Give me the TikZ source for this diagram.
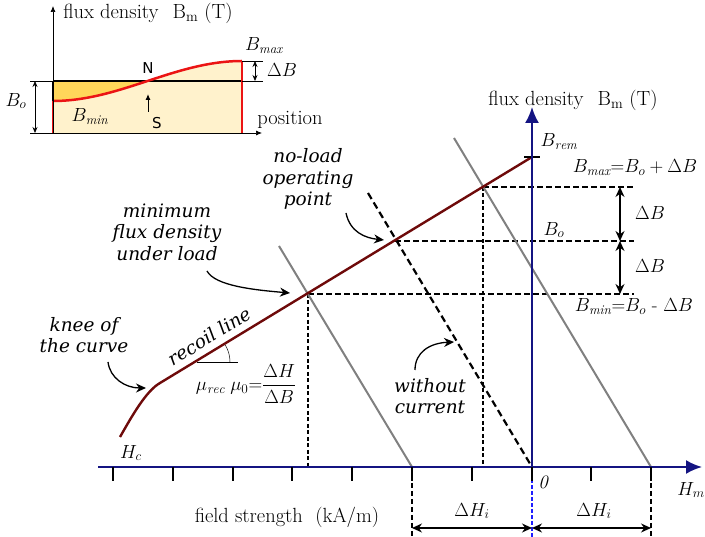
\RequirePackage{fix-cm}
\documentclass[tikz,border=0pt]{standalone}
\usepackage{amsmath}
\usepackage{fontspec}
\usepackage{xcolor}
\usetikzlibrary{arrows.meta}

\newfontfamily\notefont{DejaVu Serif}
\newfontfamily\poleFont{DejaVu Sans}

\definecolor{navy}{RGB}{20,20,130}
\definecolor{recoil}{RGB}{110,10,10}
\definecolor{loadgray}{RGB}{128,128,128}
\definecolor{lightfill}{RGB}{255,242,204}
\definecolor{darkfill}{RGB}{255,214,90}
\definecolor{magred}{RGB}{235,20,20}
\definecolor{zeroblue}{RGB}{30,30,255}

\tikzset{
    note/.style={font=\notefont\itshape\fontsize{18.5}{21.5}\selectfont, align=center, inner sep=0pt},
    wordlabel/.style={font=\fontsize{20.5}{24}\selectfont},
    axisline/.style={draw=navy, line width=2pt, -{Latex[length=16pt,width=14pt]}},
    loadline/.style={draw=loadgray, line width=2pt},
    levelline/.style={dash pattern=on 6pt off 3pt, line width=1.6pt},
    dropline/.style={dash pattern=on 4pt off 2.5pt, line width=1.1pt},
    calloutarrow/.style={->, line width=1.3pt},
    insetaxis/.style={line width=0.7pt, -{Latex[length=6pt,width=5pt]}}
}

\begin{document}
\begin{tikzpicture}[
    x=1pt, y=-1pt,
    >={Stealth[length=10pt,width=9pt]},
    thick,
    font=\fontsize{19}{22}\selectfont
]
    \useasboundingbox (0,0) rectangle (705,537);

    % Define standard coordinates
    \coordinate (O)    at (532,467);
    \coordinate (Brem) at (532,157);
    \coordinate (Pmax) at (483,187);
    \coordinate (Pmid) at (395,241);
    \coordinate (Pmin) at (308,294);
    \coordinate (knee) at (160,383);
    \coordinate (Hc)   at (120,437);

    % ---------------- inset: flux density along the pole ----------------
    \fill[lightfill] (53,133) -- (53,101) .. controls (120,101) and (175,61) .. (242,61) -- (242,133) -- cycle;
    \fill[darkfill] (53,81) -- (53,101) .. controls (86.5,101) and (117,91) .. (147.5,81) -- cycle;
    \draw[line width=2.5pt] (53,81) -- (242,81);
    \draw[line width=2.5pt] (53,81) -- (53,101);
    \draw[magred, line width=2.5pt] (53,101) .. controls (120,101) and (175,61) .. (242,61);
    \draw[magred, line width=2.5pt] (53,101) -- (53,133);
    \draw[magred, line width=2.5pt] (242,61) -- (242,133);

    % inset axes
    \draw[insetaxis] (53,133) -- (53,6);
    \draw[insetaxis] (53,133) -- (262,133);
    \node[wordlabel] (insetflux) at (148,13) {flux density\hspace{14pt}B\textsubscript{m} (T)};
    \node[wordlabel] (insetpos) at (290,120) {position};

    % B_o and Delta B in the inset
    \draw[line width=0.5pt] (30,81) -- (53,81);
    \draw[line width=0.5pt] (30,133) -- (53,133);
    \draw[<->, line width=0.7pt, >={Stealth[length=6pt,width=5pt]}] (35,81) -- (35,133);
    \node (insetBo) at (16,101) {$B_o$};
    \draw[line width=0.5pt] (242,61) -- (263,61);
    \draw[line width=0.5pt] (242,81) -- (263,81);
    \draw[<->, line width=0.7pt, >={Stealth[length=6pt,width=5pt]}] (255,61) -- (255,81);
    \node (insetdB) at (282,70) {$\Delta B$};
    \node (insetBmax) at (264,46) {$B_{\mathit{max}}$};
    \node (insetBmin) at (90,117) {$B_{\mathit{min}}$};

    % poles
    \node[font=\poleFont\fontsize{15}{17}\selectfont] (poleN) at (148,68) {N};
    \node[font=\poleFont\fontsize{15}{17}\selectfont] (poleS) at (157,123) {S};
    \draw[->, line width=1pt, >={Latex[length=6pt,width=5pt]}] (148,112) -- (148,94);

    % ---------------- main diagram ----------------
    % operating levels
    \coordinate (EndMax) at (634,187);
    \coordinate (EndMid) at (634,241);
    \coordinate (EndMin) at (634,294);
    \draw[levelline] (Pmax) -- (EndMax);
    \draw[levelline] (Pmid) -- (EndMid);
    \draw[levelline] (Pmin) -- (EndMin);

    % drop lines to the field axis
    \draw[dropline] (Pmax) -- (483,467);
    \draw[dropline] (Pmin) -- (308,467);

    % load lines
    \coordinate (HiL) at (412,467);
    \coordinate (HiR) at (651,467);
    \coordinate (TopL) at (279,246);
    \coordinate (TopD) at (368,193);
    \coordinate (TopR) at (454,138);
    \draw[loadline] (TopL) -- (HiL);
    \draw[loadline] (TopR) -- (HiR);
    \draw[dash pattern=on 7pt off 4pt, line width=2.2pt] (TopD) -- (O);

    % recoil line with the knee
    \draw[recoil, line width=2.4pt, line join=round] (Brem) -- (knee) .. controls (146,391) and (132,416) .. (Hc);
    \draw[line width=2pt] (524,157) -- (540,157);

    % axes
    \draw[axisline] (98,467) -- (702,467);
    \draw[axisline] (O) -- (532,107);
    \draw[zeroblue, dash pattern=on 4pt off 2pt, line width=1.4pt] (O) -- (532,537);

    % ticks on the field axis
    \foreach \k in {0,...,9}
        \draw[line width=2pt] ({113+59.8*\k},467) -- ++(0,14);

    % Delta B arrows
    \draw[<->, line width=1.3pt] (620,187) -- (620,241);
    \draw[<->, line width=1.3pt] (620,241) -- (620,294);
    \node (dB1) at (650,213) {$\Delta B$};
    \node (dB2) at (650,266) {$\Delta B$};

    % Delta H_i arrows
    \draw[dash pattern=on 5pt off 3pt, line width=1.6pt] (HiL) -- (412,537);
    \draw[dash pattern=on 5pt off 3pt, line width=1.6pt] (HiR) -- (651,537);
    \draw[<->, line width=1.3pt] (412,528) -- (532,528);
    \draw[<->, line width=1.3pt] (532,528) -- (651,528);
    \node (dHi1) at (472,511) {$\Delta H_i$};
    \node (dHi2) at (594,511) {$\Delta H_i$};

    % axis labels
    \node[wordlabel] (mainflux) at (573,100) {flux density\hspace{14pt}B\textsubscript{m} (T)};
    \node[wordlabel] (field) at (287,517) {field strength\ \ (kA/m)};
    \node (Hm) at (691,490) {$H_m$};
    \node (zero) at (543,482) {$\mathit{0}$};
    \node (Hclbl) at (131,453) {$H_c$};
    \node (Bremlbl) at (559,142) {$B_{\mathit{rem}}$};
    \node (Bmaxlbl) at (635,168) {$B_{\mathit{max}}{=}B_o+\Delta B$};
    \node (Bolbl) at (554,230) {$B_o$};
    \node (Bminlbl) at (634,307) {$B_{\mathit{min}}{=}B_o\text{ - }\Delta B$};

    % recoil slope
    \coordinate (Pang) at (197,362);
    \draw[line width=0.5pt] (Pang) -- (238,362);
    \draw[line width=0.5pt] (230,362) arc (0:-31:33);
    \node (slope) at (246,384) {$\mu_{\mathit{rec}}\;\mu_0{=}\dfrac{\Delta H}{\Delta B}$};
    \node[note, rotate=31.5] (recoillbl) at (209,336) {recoil line};

    % callouts
    \node[note] (noload) at (308,179) {no-load\\operating\\point};
    \draw[calloutarrow] (346,213) .. controls (350,232) and (365,238) .. (384,240);
    \node[note] (minload) at (167,232) {minimum\\flux density\\under load};
    \draw[calloutarrow] (207,271) .. controls (215,286) and (255,290) .. (290,293);
    \node[note] (kneelbl) at (84,335) {knee of\\the curve};
    \draw[calloutarrow] (108,362) .. controls (110,378) and (125,388) .. (146,388);
    \node[note] (nocurrent) at (430,396) {without\\current};
    \draw[calloutarrow] (415,370) .. controls (415,352) and (430,343) .. (454,342);

\end{tikzpicture}
\end{document}
